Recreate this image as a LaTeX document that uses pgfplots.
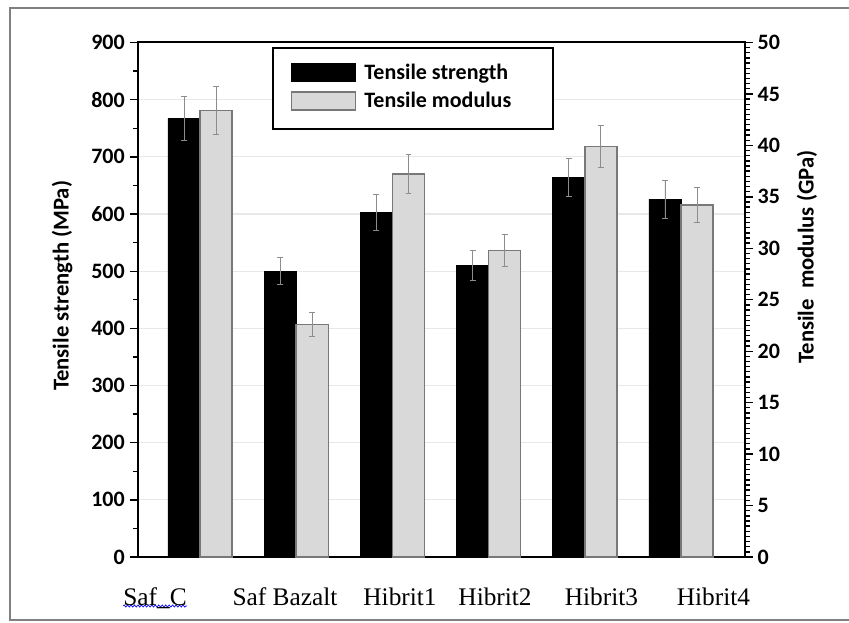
\documentclass[border=0pt]{standalone}
\usepackage{pgfplots}
\pgfplotsset{compat=1.18}
\usepackage{fontspec}
\setmainfont{Carlito}
\newfontfamily\serif{Liberation Serif}
\usetikzlibrary{decorations.pathmorphing}

\definecolor{barfill}{RGB}{217,217,217}
\definecolor{baredge}{RGB}{120,120,120}
\definecolor{errgray}{RGB}{140,140,140}
\definecolor{gridgray}{RGB}{232,232,232}
\definecolor{framegray}{RGB}{128,128,128}

\pgfplotsset{
  ybar legend/.style={/pgfplots/legend image code/.code={\draw[##1] (0pt,-5.2pt) rectangle (48pt,8.3pt);}},
  common/.style={
    at={(103.125pt,-31.875pt)}, anchor=north west,
    scale only axis, width=455.6pt, height=385.9pt,
    xmin=-0.65, xmax=5.665,
    ybar, bar width=0.333,
    tick align=outside,
    major tick length=6pt, minor tick length=3.5pt,
    every tick/.style={black, line width=1pt},
    axis line style={line width=1.5pt},
    tick label style={font=\fontsize{16.5}{18}\selectfont\bfseries},
    label style={font=\fontsize{17}{19}\selectfont\bfseries},
    /pgf/number format/assume math mode=true,
    error bars/y dir=both, error bars/y explicit,
    error bars/error mark=-,
    error bars/error bar style={errgray, line width=0.6pt},
    error bars/error mark options={errgray, mark size=2.2pt, line width=0.6pt, rotate=90},
  },
}

\begin{document}
\begin{tikzpicture}
\useasboundingbox (0,0) rectangle (636.75pt,-467.25pt);
\begin{scope}[x=0.75pt,y=-0.75pt]
  \draw[framegray, line width=1.8pt] (849,8) -- (10,8) -- (10,620) -- (849,620);
  \draw[blue, line width=0.5pt, decorate, decoration={snake, amplitude=0.8pt, segment length=2.6pt}] (123,606) -- (187,606);
\end{scope}

% tensile strength, left axis
\begin{axis}[common,
  ymin=0, ymax=900, ytick={0,100,...,900}, minor y tick num=1,
  ytick pos=left,
  ymajorgrids, grid style={gridgray, line width=0.8pt},
  xtick={-0.468,0.884,2.079,3.067,4.173,5.337},
  xticklabels={Saf\_C, Saf Bazalt, Hibrit1, Hibrit2, Hibrit3, Hibrit4},
  xticklabel style={font=\fontsize{19}{21}\selectfont\serif\mdseries, anchor=base, yshift=-30pt},
  xtick style={draw=none},
  ylabel={Tensile strength (MPa)},
  ylabel style={at={(axis description cs:-0.124,0.527)}, anchor=center},
]
\addplot[fill=black, draw=black, line width=0.5pt, bar shift=-0.1665]
  coordinates {(0,767) +- (0,38) (1,500) +- (0,24) (2,603) +- (0,31)
               (3,510) +- (0,27) (4,664) +- (0,33) (5,626) +- (0,33)};
\end{axis}

% tensile modulus, right axis
\begin{axis}[common,
  ymin=0, ymax=50, ytick={0,5,...,50}, minor y tick num=9,
  axis y line*=right, axis x line=none,
  ylabel={Tensile\ \ modulus (GPa)},
  ylabel style={at={(axis description cs:1.102,0.583)}, anchor=center},
  legend style={at={(axis description cs:0.2214,0.991)}, anchor=north west,
    draw=black, line width=1.5pt, inner xsep=13.5pt, inner ysep=11.4pt,
    row sep=4.1pt, column sep=4pt,
    font=\fontsize{16.5}{18}\selectfont\bfseries,
    nodes={inner ysep=1pt, text height=11pt, text depth=3.5pt}},
  legend cell align=left,
]
\addlegendimage{ybar, ybar legend, fill=black, draw=black, line width=0.5pt}
\addplot[fill=barfill, draw=baredge, line width=1.1pt, bar shift=0.1665]
  coordinates {(0,43.4) +- (0,2.3) (1,22.6) +- (0,1.2) (2,37.2) +- (0,1.9)
               (3,29.8) +- (0,1.6) (4,39.9) +- (0,2.0) (5,34.2) +- (0,1.7)};
\legend{Tensile strength\hspace*{18pt}, Tensile modulus}
\end{axis}
\end{tikzpicture}
\end{document}
